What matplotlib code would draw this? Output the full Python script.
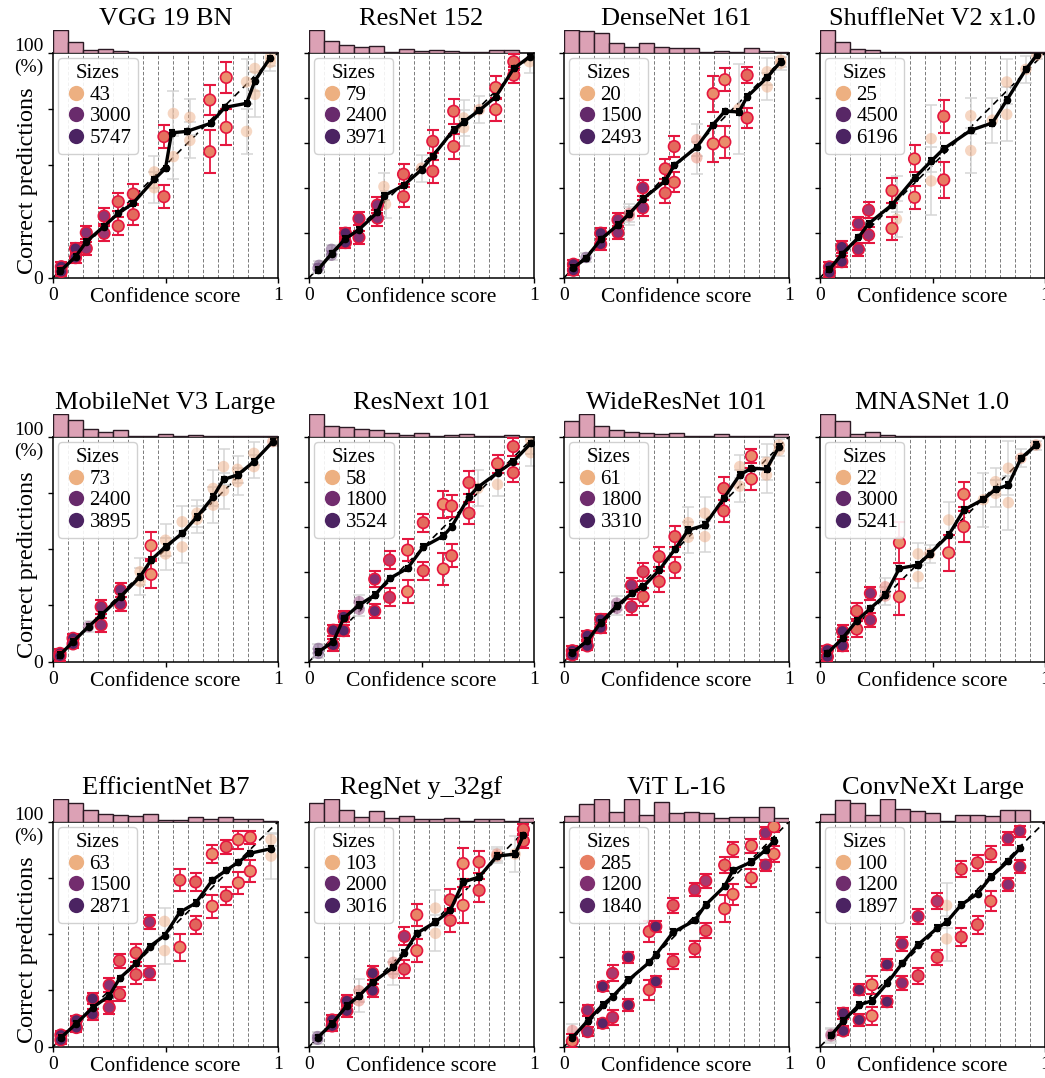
import numpy as np
import matplotlib
matplotlib.use("Agg")
import matplotlib.pyplot as plt
import seaborn as sns
from matplotlib.colors import LogNorm
from matplotlib.lines import Line2D

plt.rcParams['font.family'] = ['Liberation Serif', 'DejaVu Serif']

# ---------------- data ----------------
BIN_EDGES = np.linspace(0, 1, 16)

TITLES = ["VGG 19 BN", "ResNet 152", "DenseNet 161", "ShuffleNet V2 x1.0",
          "MobileNet V3 Large", "ResNext 101", "WideResNet 101", "MNASNet 1.0",
          "EfficientNet B7", "RegNet y_32gf", "ViT L-16", "ConvNeXt Large"]

# legend sizes and colour range per panel
VGG_SIZES = [43, 3000, 5747];     VGG_HUE = [43, 5747]
RES_SIZES = [79, 2400, 3971];     RES_HUE = [79, 3971]
DEN_SIZES = [20, 1500, 2493];     DEN_HUE = [20, 2493]
SHU_SIZES = [25, 4500, 6196];     SHU_HUE = [25, 6196]
MOB_SIZES = [73, 2400, 3895];     MOB_HUE = [73, 3895]
RNX_SIZES = [58, 1800, 3524];     RNX_HUE = [58, 3524]
WRN_SIZES = [61, 1800, 3310];     WRN_HUE = [61, 3310]
MNA_SIZES = [22, 3000, 5241];     MNA_HUE = [22, 5241]
EFF_SIZES = [63, 1500, 2871];     EFF_HUE = [63, 2871]
REG_SIZES = [103, 2000, 3016];    REG_HUE = [103, 3016]
VIT_SIZES = [285, 1200, 1840];    VIT_HUE = [173, 2080]
CNX_SIZES = [100, 1200, 1897];    CNX_HUE = [100, 1897]

# relative histogram heights (15 bins)
VGG_HIST = [1, .48, .10, .16, .08, .05, .03, .02, .03, .01, .01, .01, .01, .01, .01]
RES_HIST = [1, .52, .33, .25, .29, .03, .16, .06, .10, .08, .02, .05, .10, .10, 0]
DEN_HIST = [1, .95, .84, .41, .25, .44, .25, .21, .21, .05, .08, .02, .21, .08, .03]
SHU_HIST = [1, .48, .16, .10, .05, .03, .02, .01, .01, .01, .01, .01, .01, .01, .01]
MOB_HIST = [1, .71, .32, .22, .27, .05, .05, .10, .05, .06, .02, .02, .02, .02, .02]
RNX_HIST = [1, .48, .43, .32, .29, .16, .08, .16, .05, .08, .11, .03, .05, .08, 0]
WRN_HIST = [.70, 1, .48, .27, .21, .16, .11, .16, .05, .03, .10, .03, .03, .01, .10]
MNA_HIST = [1, .67, .11, .21, .08, .01, .03, .03, .01, .01, .01, .01, .01, .01, .01]
EFF_HIST = [1, .83, .52, .35, .29, .24, .32, .08, .08, .19, .11, .19, .13, .10, .03]
REG_HIST = [.83, 1, .51, .19, .48, .16, .24, .13, .11, .16, .05, .11, .11, .05, .16]
VIT_HIST = [.23, .78, .97, .42, 1, .28, .86, .39, .42, .36, .16, .19, .20, .63, .16]
CNX_HIST = [.34, .94, .83, .27, 1, .56, .48, .40, .05, .27, .27, .24, .50, .50, 0]

# overall calibration curve (mean confidence, % correct)
VGG_LX = [.033, .1, .148, .225, .29, .355, .45, .5, .527, .594, .7, .764, .86, .897, .963]
VGG_LY = [3, 9.3, 16, 22.7, 28.6, 33, 43.7, 48.6, 64.4, 65, 68.6, 75.7, 77.5, 87.4, 97.5]
RES_LX = [.04, .1, .162, .222, .304, .335, .42, .5, .55, .643, .687, .757, .83, .91, .98]
RES_LY = [3.5, 10.7, 17.3, 21.4, 29, 36.5, 41, 48, 54, 65.8, 69.2, 74.4, 80.4, 93, 98.2]
DEN_LX = [.042, .098, .163, .24, .29, .35, .45, .49, .59, .66, .715, .777, .814, .903, .963]
DEN_LY = [4.5, 8.6, 17, 23.5, 28.3, 35, 43, 50, 58, 67.7, 74, 73.7, 80.4, 89, 96]
SHU_LX = [.042, .097, .171, .216, .32, .42, .494, .55, .67, .766, .83, .915, .964]
SHU_LY = [3.7, 10.4, 17.9, 24, 32.4, 44.3, 51.8, 57.3, 65.5, 68.8, 78.9, 92.6, 99]
MOB_LX = [.031, .089, .158, .214, .3, .387, .436, .5, .574, .64, .712, .758, .82, .893, .977]
MOB_LY = [3, 8.9, 15.6, 20.7, 28.9, 37.8, 45.2, 51.1, 57, 64.4, 73.3, 81, 83, 88.9, 97.8]
RNX_LX = [.042, .108, .154, .223, .292, .358, .438, .508, .597, .634, .711, .75, .838, .908, .985]
RNX_LY = [4.4, 8.9, 19.3, 25.2, 29.6, 37, 41.5, 51, 55.9, 60, 73.3, 77.5, 84, 88.9, 97]
WRN_LX = [.037, .104, .163, .234, .3, .352, .423, .493, .552, .626, .71, .781, .833, .9, .956]
WRN_LY = [4, 9.3, 17.3, 24.7, 30.4, 33.3, 40.7, 50, 58.5, 60.7, 72.6, 83, 86, 85.6, 95.6]
MNA_LX = [.033, .1, .163, .224, .29, .353, .436, .487, .572, .639, .726, .78, .837, .893, .96]
MNA_LY = [3.7, 10.4, 18.2, 23.7, 29.6, 41.5, 43, 47.9, 56.3, 67.4, 72.2, 76.6, 78.5, 90.4, 96.3]
EFF_LX = [.035, .104, .176, .25, .296, .369, .429, .496, .564, .634, .708, .77, .824, .877, .969]
EFF_LY = [4, 10.3, 17.4, 22.6, 30.4, 37, 44.5, 49.4, 59.8, 63.8, 74, 78.4, 82, 86, 88]
REG_LX = [.038, .103, .168, .222, .283, .375, .424, .479, .562, .628, .685, .756, .835, .916, .953]
REG_LY = [4, 10.3, 18.2, 22.6, 28.6, 35.3, 41.7, 50.4, 55.4, 60.6, 73.2, 75.4, 84.7, 85.6, 94]
VIT_LX = [.037, .105, .172, .216, .286, .379, .408, .485, .581, .63, .714, .751, .833, .896, .933]
VIT_LY = [4, 11.5, 18.6, 22.3, 29.6, 37.5, 40.8, 50.9, 56.1, 63.1, 71.3, 78.4, 82.1, 87.4, 91.5]
CNX_LX = [.049, .104, .174, .231, .298, .365, .436, .521, .563, .628, .7, .759, .836, .888]
CNX_LY = [5, 11.5, 18.6, 20.4, 28.1, 37, 45.4, 52.7, 55.4, 63.1, 68, 75.4, 82.4, 88.1]

# sub-group points: x, y (%), error (%), size, significant
VGG_PX = [.037, .037, .1, .1, .148, .148, .227, .227, .29, .29, .357, .357, .45, .45, .493, .493, .535, .535, .608, .608, .697, .697, .77, .77, .86, .86, .897, .897, .966, .966]
VGG_PY = [4.9, 2.7, 13, 8.9, 20, 13, 27.4, 19.7, 33.8, 23, 37.2, 28, 47, 40, 62.7, 36, 73, 53.8, 71.3, 61, 79, 56, 89, 66.8, 87, 65, 93, 81.5, 98, 95.7]
VGG_PE = [2, 2, 2.5, 2.5, 3, 3, 3.5, 3.5, 4, 4, 4.5, 4.5, 7, 7, 5, 5, 10, 10, 8, 8, 6.5, 9.5, 7, 8, 10, 10, 10, 10, 4, 4]
VGG_PN = [4500, 4500, 4500, 3500, 1690, 1300, 1300, 1100, 170, 170, 170, 170, 55, 55, 150, 150, 55, 55, 55, 55, 104, 104, 80, 80, 50, 50, 50, 50, 50, 50]
VGG_PS = [1, 1, 1, 1, 1, 1, 1, 1, 1, 1, 1, 1, 0, 0, 1, 1, 0, 0, 0, 0, 1, 1, 1, 1, 0, 0, 0, 0, 0, 0]

RES_PX = [.04, .045, .1, .1, .162, .162, .222, .222, .304, .304, .333, .34, .42, .42, .5, .55, .55, .643, .643, .687, .687, .757, .83, .83, .91, .91, .98]
RES_PY = [4.2, 5.5, 10, 12.6, 19.8, 15.6, 26.3, 17.9, 32.3, 26.5, 40.5, 32.7, 46, 36, 48.7, 60.6, 47.3, 74, 58.3, 71, 66.7, 74.7, 84.5, 74.7, 96, 90, 96]
RES_PE = [2, 2, 2, 2, 2.5, 2.5, 3, 3, 3.5, 3.5, 6, 6, 4.5, 4.5, 6, 5, 5, 5.5, 5.5, 8, 8, 6, 5, 5, 3.5, 3.5, 5]
RES_PN = [3260, 3260, 3260, 3260, 3260, 3260, 1490, 1490, 1490, 1490, 96, 96, 237, 237, 117, 237, 237, 200, 200, 96, 96, 130, 160, 160, 237, 237, 96]
RES_PS = [0, 0, 0, 0, 1, 1, 1, 1, 1, 1, 0, 0, 1, 1, 0, 1, 1, 1, 1, 0, 0, 0, 1, 1, 1, 1, 0]

DEN_PX = [.042, .042, .098, .163, .163, .24, .24, .29, .29, .35, .35, .45, .45, .49, .49, .59, .59, .663, .663, .715, .715, .777, .814, .814, .903, .903, .963, .963]
DEN_PY = [6, 3.3, 9, 19.8, 14.9, 25.7, 20, 28.6, 27.5, 39.9, 31, 48.4, 37.6, 42.4, 58.3, 61.3, 53.3, 81.8, 59.5, 88, 60.3, 75, 90, 71, 91.5, 84.8, 96.7, 95.2]
DEN_PE = [2, 2, 2, 2.5, 2.5, 3, 3, 4, 4, 3.5, 3.5, 4.5, 4.5, 4.5, 4.5, 7, 7, 8, 8, 5, 7, 20, 3.5, 4.5, 6, 6, 3, 3]
DEN_PN = [1960, 1960, 1960, 1960, 1960, 750, 750, 120, 120, 750, 750, 77, 77, 60, 77, 60, 60, 40, 40, 40, 40, 30, 77, 77, 25, 25, 25, 25]
DEN_PS = [1, 1, 0, 1, 1, 1, 1, 0, 0, 1, 1, 1, 1, 1, 1, 0, 0, 1, 1, 1, 1, 0, 1, 1, 0, 0, 0, 0]

SHU_PX = [.042, .042, .097, .097, .171, .171, .216, .216, .32, .32, .34, .34, .42, .42, .494, .494, .55, .55, .67, .67, .766, .83, .83, .915, .964]
SHU_PY = [4.8, 2.2, 13.7, 7.1, 24, 12.6, 30, 19, 38.7, 21.9, 37, 26, 52.8, 35.7, 61.8, 43, 71.7, 43.5, 72, 56.5, 70, 87, 72.6, 92.6, 99]
SHU_PE = [2, 2, 2.5, 2.5, 3, 3, 3.5, 3.5, 5.5, 5, 8, 8, 6, 5, 15, 15, 7.5, 8, 8, 10, 10, 10, 12, 6, 2]
SHU_PN = [4700, 4700, 4700, 4700, 1560, 1560, 680, 1000, 67, 67, 33, 33, 50, 50, 33, 33, 80, 80, 33, 33, 33, 33, 33, 33, 40]
SHU_PS = [1, 1, 1, 1, 1, 1, 1, 1, 1, 1, 0, 0, 1, 1, 0, 0, 1, 1, 0, 0, 0, 0, 0, 0, 0]

MOB_PX = [.031, .031, .089, .089, .158, .214, .214, .3, .3, .387, .387, .436, .436, .5, .5, .574, .574, .64, .64, .712, .712, .758, .758, .82, .82, .893, .893, .977]
MOB_PY = [3.7, 2.5, 10.4, 7.9, 15.6, 24.4, 16.3, 31.9, 25.6, 40, 35.6, 51.6, 38.8, 54, 47.9, 62.2, 51, 66, 63.3, 77, 69.6, 86.7, 76, 85.5, 80, 92.6, 86.7, 97.8]
MOB_PE = [2, 2, 2, 2, 2.5, 3, 3, 3, 3, 6, 6, 6, 6, 7, 7, 7, 7, 6, 6, 8, 8, 8, 8, 6, 6, 5, 5, 2]
MOB_PN = [3190, 3190, 3190, 3190, 1440, 1440, 1440, 1900, 1900, 89, 89, 110, 110, 89, 89, 89, 89, 89, 89, 89, 89, 89, 89, 89, 89, 89, 89, 133]
MOB_PS = [1, 1, 1, 1, 0, 1, 1, 1, 1, 0, 0, 1, 1, 0, 0, 0, 0, 0, 0, 0, 0, 0, 0, 0, 0, 0, 0, 0]

RNX_PX = [.042, .042, .108, .108, .154, .154, .223, .223, .292, .292, .358, .358, .438, .438, .508, .508, .597, .597, .634, .634, .711, .711, .75, .838, .838, .908, .908, .985, .985]
RNX_PY = [5.9, 3.7, 14, 7.4, 20, 13.8, 26.7, 23.3, 36.7, 22.5, 45.2, 28.6, 49.6, 31.1, 61.8, 40.4, 70, 41.2, 69.2, 47.1, 79.6, 66, 77, 88, 78.8, 95.6, 84, 98.5, 92.9]
RNX_PE = [2, 2, 2.5, 2.5, 2.5, 2.5, 3, 3, 3.5, 3, 4, 4, 5, 5, 4, 4, 6, 7, 5, 5, 5, 5, 8, 4, 5, 4, 4, 6, 6]
RNX_PN = [2870, 2870, 2870, 2870, 2870, 2870, 1265, 1265, 1265, 2000, 500, 500, 130, 100, 183, 183, 100, 100, 150, 150, 183, 183, 71, 150, 71, 183, 183, 71, 71]
RNX_PS = [0, 0, 1, 1, 1, 1, 0, 0, 1, 1, 1, 1, 1, 1, 1, 1, 1, 1, 1, 1, 1, 1, 0, 1, 0, 1, 1, 0, 0]

WRN_PX = [.037, .037, .104, .104, .163, .163, .234, .234, .3, .3, .352, .352, .423, .423, .493, .493, .552, .552, .626, .626, .71, .71, .781, .781, .833, .833, .9, .9, .956, .956]
WRN_PY = [4.9, 3, 11.6, 7, 18.8, 15.1, 26, 23.7, 34, 24.4, 40, 28.9, 46.7, 35.6, 55.6, 41.9, 61.8, 55.3, 66, 55.6, 77, 67, 86.7, 78, 91.4, 81.2, 88.6, 83, 96.3, 94]
WRN_PE = [2, 2, 2, 2, 2.5, 2.5, 3, 3, 3, 3.5, 4, 4, 4.5, 4.5, 4.5, 4.5, 7, 7, 7, 7, 5, 5, 5, 7, 3, 5, 8, 8, 2.5, 2.5]
WRN_PN = [2710, 2710, 2710, 2710, 2710, 2710, 1220, 1220, 1000, 670, 300, 187, 187, 187, 187, 187, 75, 75, 75, 75, 187, 187, 75, 75, 110, 110, 75, 75, 75, 75]
WRN_PS = [1, 1, 1, 1, 1, 1, 0, 0, 1, 1, 1, 1, 1, 1, 1, 1, 0, 0, 0, 0, 1, 1, 0, 0, 1, 1, 0, 0, 0, 0]

MNA_PX = [.033, .033, .1, .1, .163, .163, .224, .224, .29, .29, .353, .353, .436, .436, .487, .572, .572, .639, .639, .726, .78, .78, .837, .837, .893, .96]
MNA_PY = [5.2, 2.2, 13.6, 7.1, 22.5, 14.5, 30.4, 18.5, 33.3, 29.2, 52.9, 28.9, 47.9, 37.8, 47.9, 63, 48.4, 74.4, 60, 72, 80, 74.8, 86, 70.7, 90.4, 96.3]
MNA_PE = [2, 2, 2.5, 2.5, 3.5, 3.5, 3, 3, 4, 4, 9, 8, 5, 5, 4, 8, 8, 5.5, 7, 12, 6, 6, 12, 12, 4, 2]
MNA_PN = [3990, 3990, 3990, 3990, 102, 102, 1333, 1333, 102, 102, 45, 45, 29, 29, 40, 29, 45, 55, 55, 29, 29, 29, 29, 29, 50, 50]
MNA_PS = [1, 1, 1, 1, 1, 1, 1, 1, 0, 0, 1, 1, 0, 0, 0, 0, 1, 1, 1, 0, 0, 0, 0, 0, 0, 0]

EFF_PX = [.035, .035, .104, .104, .176, .176, .25, .25, .296, .296, .369, .369, .429, .429, .496, .496, .564, .564, .634, .634, .708, .708, .77, .77, .824, .824, .877, .877, .969, .969]
EFF_PY = [5.2, 3, 11.8, 8.5, 21.4, 14.4, 27.4, 17.4, 38.2, 23.4, 41.7, 32, 55.4, 32.7, 55.7, 42.7, 74, 44.2, 73.2, 54.2, 85.6, 62.4, 88.8, 67, 92, 72.8, 93, 78, 92, 84.7]
EFF_PE = [2, 2, 2, 2, 2.5, 2.5, 3, 3, 3, 3, 4, 4, 3, 3, 6, 6, 5, 6, 4, 4, 4, 5, 3, 4, 4, 5, 3, 5, 3, 10]
EFF_PN = [2370, 2370, 2370, 2370, 2370, 2370, 1105, 900, 220, 220, 184, 220, 900, 900, 76, 76, 150, 125, 200, 200, 110, 110, 200, 200, 110, 110, 110, 110, 76, 76]
EFF_PS = [1, 1, 1, 1, 1, 1, 1, 1, 1, 1, 1, 1, 1, 1, 0, 0, 1, 1, 1, 1, 1, 1, 1, 1, 1, 1, 1, 1, 0, 0]

REG_PX = [.038, .038, .103, .103, .168, .168, .222, .222, .283, .283, .375, .375, .424, .424, .479, .479, .562, .562, .628, .628, .685, .685, .756, .756, .835, .835, .916, .953, .953]
REG_PY = [4.5, 3.3, 11.9, 9.2, 20.4, 15.9, 24.9, 20.4, 32.7, 24.9, 37.5, 32.6, 49, 34.5, 58.6, 42.7, 61.6, 50.4, 65.3, 56.1, 81.4, 62.8, 82.1, 69.5, 85.6, 84.7, 85.6, 96.6, 91.4]
REG_PE = [2, 2, 2, 2, 2.5, 2.5, 5, 5, 3, 3, 5, 5, 4, 4, 5, 5, 8, 8, 5, 5, 7, 8, 5, 5, 3, 3, 8, 2.5, 3]
REG_PN = [2550, 2550, 2550, 2550, 2550, 2550, 265, 265, 2550, 2550, 265, 265, 900, 350, 190, 190, 122, 122, 265, 265, 160, 150, 220, 265, 220, 220, 122, 265, 265]
REG_PS = [0, 0, 1, 1, 1, 1, 0, 0, 1, 1, 0, 0, 1, 1, 1, 1, 0, 0, 1, 1, 1, 1, 1, 1, 0, 0, 0, 1, 1]

VIT_PX = [.037, .037, .105, .105, .172, .172, .216, .216, .286, .286, .379, .379, .408, .408, .485, .485, .581, .581, .63, .63, .714, .714, .751, .751, .833, .833, .896, .896, .933, .933]
VIT_PY = [7.3, 2.5, 16.2, 6.7, 26.8, 10.4, 32.6, 13, 39.7, 18.5, 51.2, 25.3, 53.4, 29, 62.8, 37.9, 69.8, 43.5, 73.7, 51.6, 80.7, 61.3, 87.6, 67.7, 89.3, 75, 95, 80.7, 97.8, 85.6]
VIT_PE = [3, 3, 2.5, 2, 2, 2, 3.5, 3.5, 2.5, 2.5, 4.5, 4.5, 2.5, 2.5, 3.5, 3.5, 3, 3.5, 3, 3.5, 3.5, 6, 3.5, 4.5, 3, 4, 2.5, 2.5, 2.5, 3.5]
VIT_PN = [400, 270, 1117, 1117, 1840, 1840, 769, 769, 1840, 1840, 330, 330, 1840, 1840, 400, 400, 769, 400, 769, 400, 330, 270, 260, 260, 270, 270, 1117, 1117, 260, 260]
VIT_PS = [0, 1, 1, 1, 1, 1, 1, 1, 1, 1, 1, 1, 1, 1, 1, 1, 1, 1, 1, 1, 1, 1, 1, 1, 1, 1, 1, 1, 1, 1]

CNX_PX = [.049, .049, .104, .104, .174, .174, .231, .231, .298, .298, .365, .365, .436, .436, .521, .521, .563, .563, .628, .628, .7, .7, .759, .759, .836, .836, .888, .888]
CNX_PY = [5.5, 4.8, 14.9, 7, 25.3, 11.9, 27.5, 13.7, 36.5, 20, 45.7, 28.3, 57.9, 31.5, 64.6, 39.7, 62.8, 47.9, 78.9, 48.7, 81.7, 54.2, 85.6, 64.7, 92.6, 72, 95.8, 80]
CNX_PE = [3, 3, 2.5, 2, 2.5, 2.5, 4, 4, 2.5, 2.5, 3, 3, 3.5, 3.5, 3.5, 3.5, 10, 10, 3.5, 4, 3.5, 4, 3.5, 4.5, 3, 3, 2.5, 3]
CNX_PN = [585, 585, 1640, 1640, 1640, 1640, 150, 150, 1640, 1640, 909, 909, 909, 300, 585, 242, 116, 116, 242, 242, 242, 242, 242, 180, 909, 909, 909, 909]
CNX_PS = [0, 0, 1, 1, 1, 1, 1, 1, 1, 1, 1, 1, 1, 1, 1, 1, 0, 0, 1, 1, 1, 1, 1, 1, 1, 1, 1, 1]

PANELS = [
    (VGG_SIZES, VGG_HUE, VGG_HIST, VGG_LX, VGG_LY, VGG_PX, VGG_PY, VGG_PE, VGG_PN, VGG_PS),
    (RES_SIZES, RES_HUE, RES_HIST, RES_LX, RES_LY, RES_PX, RES_PY, RES_PE, RES_PN, RES_PS),
    (DEN_SIZES, DEN_HUE, DEN_HIST, DEN_LX, DEN_LY, DEN_PX, DEN_PY, DEN_PE, DEN_PN, DEN_PS),
    (SHU_SIZES, SHU_HUE, SHU_HIST, SHU_LX, SHU_LY, SHU_PX, SHU_PY, SHU_PE, SHU_PN, SHU_PS),
    (MOB_SIZES, MOB_HUE, MOB_HIST, MOB_LX, MOB_LY, MOB_PX, MOB_PY, MOB_PE, MOB_PN, MOB_PS),
    (RNX_SIZES, RNX_HUE, RNX_HIST, RNX_LX, RNX_LY, RNX_PX, RNX_PY, RNX_PE, RNX_PN, RNX_PS),
    (WRN_SIZES, WRN_HUE, WRN_HIST, WRN_LX, WRN_LY, WRN_PX, WRN_PY, WRN_PE, WRN_PN, WRN_PS),
    (MNA_SIZES, MNA_HUE, MNA_HIST, MNA_LX, MNA_LY, MNA_PX, MNA_PY, MNA_PE, MNA_PN, MNA_PS),
    (EFF_SIZES, EFF_HUE, EFF_HIST, EFF_LX, EFF_LY, EFF_PX, EFF_PY, EFF_PE, EFF_PN, EFF_PS),
    (REG_SIZES, REG_HUE, REG_HIST, REG_LX, REG_LY, REG_PX, REG_PY, REG_PE, REG_PN, REG_PS),
    (VIT_SIZES, VIT_HUE, VIT_HIST, VIT_LX, VIT_LY, VIT_PX, VIT_PY, VIT_PE, VIT_PN, VIT_PS),
    (CNX_SIZES, CNX_HUE, CNX_HIST, CNX_LX, CNX_LY, CNX_PX, CNX_PY, CNX_PE, CNX_PN, CNX_PS),
]

# ---------------- style ----------------
CMAP = sns.color_palette("flare", as_cmap=True)
RED = '#e5163f'
GREY_ERR = '#d4d4d4'
HIST_FC = '#dca1b5'
HIST_EC = '#2b1a24'

W, H = 1045, 1078
fig = plt.figure(figsize=(W / 100, H / 100), dpi=100)

col_left = [53, 309, 564, 820]
row_top = [52.7, 436.7, 821.7]
SZ = 225
HH = 23

for i, (title, panel) in enumerate(zip(TITLES, PANELS)):
    sizes, hue, hist, lx, ly, px, py, pe, pn, ps = panel
    r, c = divmod(i, 4)
    left = col_left[c] / W
    bottom = 1 - (row_top[r] + SZ) / H
    ax = fig.add_axes([left, bottom, SZ / W, SZ / H])
    hax = fig.add_axes([left, 1 - row_top[r] / H, SZ / W, HH / H])
    norm = LogNorm(vmin=hue[0], vmax=hue[1])

    # histogram
    hax.bar(BIN_EDGES[:-1], hist, width=1 / 15, align='edge', color=HIST_FC,
            edgecolor=HIST_EC, linewidth=1.0)
    hax.set_xlim(0, 1)
    hax.set_ylim(0, 1.0)
    hax.axis('off')
    hax.set_title(title, fontsize=19, pad=1.5)

    # bin edges
    for e in BIN_EDGES[1:-1]:
        ax.axvline(e, color='#7a7a7a', lw=0.7, ls=(0, (3.5, 2)), zorder=0)
    ax.plot([0, 1], [0, 100], color='k', lw=1.2, ls=(0, (4, 3)), zorder=1)

    px = np.asarray(px); py = np.asarray(py); pe = np.asarray(pe)
    pn = np.asarray(pn); ps = np.asarray(ps).astype(bool)
    cols = CMAP(norm(pn))
    ns = ~ps
    # non-significant
    ax.errorbar(px[ns], py[ns], yerr=pe[ns], fmt='none', ecolor=GREY_ERR,
                elinewidth=1.3, capsize=4.5, capthick=1.3, zorder=2, alpha=0.8)
    ax.scatter(px[ns], py[ns], s=68, c=cols[ns], alpha=0.45, linewidths=0,
               zorder=2)
    # significant
    ax.errorbar(px[ps], py[ps], yerr=pe[ps], fmt='none', ecolor=RED,
                elinewidth=1.3, capsize=4.5, capthick=1.5, zorder=3)
    ax.scatter(px[ps], py[ps], s=68, c=cols[ps], edgecolors=RED,
               linewidths=1.2, zorder=4)

    # overall curve
    ax.errorbar(lx, ly, yerr=1.2, color='k', lw=2.4, marker='o', ms=4.5,
                capsize=2.5, capthick=1.5, elinewidth=1.5, zorder=5)

    ax.set_xlim(0, 1)
    ax.set_ylim(0, 100)
    ax.set_xticks([0, 0.5, 1])
    ax.set_xticklabels(['0', '', '1'])
    if c == 0:
        ax.set_yticks([0, 25, 50, 75, 100])
        ax.set_yticklabels(['0', '', '', '', '100\n(%)'], linespacing=1.3)
        ax.set_ylabel('Correct predictions', fontsize=17.5)
        ax.yaxis.set_label_coords(-0.066, 0.43)
    else:
        ax.set_yticks([0, 20, 40, 60, 80, 100])
        ax.set_yticklabels([])
    ax.tick_params(labelsize=14, length=3.5, width=1.0)
    ax.set_xlabel('Confidence score', fontsize=15.5)
    ax.xaxis.set_label_coords(0.5, -0.045)
    for sp in ax.spines.values():
        sp.set_linewidth(1.1)

    handles = [Line2D([], [], ls='none', marker='o', ms=11,
                      markerfacecolor=CMAP(norm(s)), markeredgewidth=0)
               for s in sizes]
    leg = ax.legend(handles, [str(s) for s in sizes], title='Sizes',
                    loc='upper left', fontsize=15, title_fontsize=15,
                    frameon=True, fancybox=True, framealpha=0.9,
                    edgecolor='#cccccc', borderpad=0.3, handletextpad=0.1,
                    handlelength=1.1, labelspacing=0.1, borderaxespad=0.25)
    leg.set_zorder(10)

fig.savefig('out.png', dpi=100)
